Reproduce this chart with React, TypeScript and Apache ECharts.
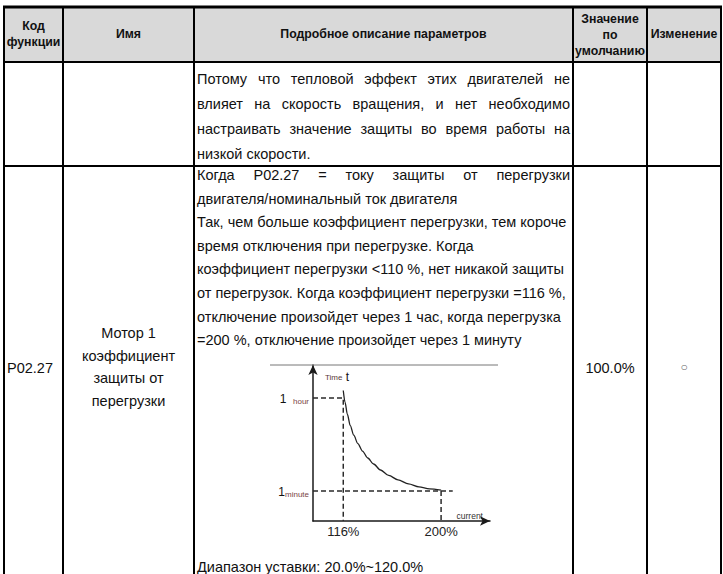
import React, { useEffect, useRef } from 'react';
import * as echarts from 'echarts';

// ---- chart data ----
const currentPct = [116, 117.5, 119.5, 122, 125, 128.5, 132.5, 137, 142, 148, 155, 163, 172, 181, 190, 200];
const tripTime = [43.5, 39.6, 35.6, 31.8, 28.6, 25.8, 23.3, 21.0, 19.0, 17.0, 15.2, 13.7, 12.4, 11.4, 10.7, 10.3];
const xTickValues = [116, 200];
const hourLevel = 41;
const minuteLevel = 10;
const yTickValues = [minuteLevel, hourLevel];
const xRange = [90, 242];
const yRange = [0, 52];
const minuteLineEnd = 210;

// ---- table texts ----
const headerCode = 'Код\nфункции';
const headerName = 'Имя';
const headerDesc = 'Подробное описание параметров';
const headerDefault = 'Значение\nпо\nумолчанию';
const headerChange = 'Изменение';

const row1Lines = [
  { t: 'Потому что тепловой эффект этих двигателей не', j: true },
  { t: 'влияет на скорость вращения, и нет необходимо', j: true },
  { t: 'настраивать значение защиты во время работы на', j: true },
  { t: 'низкой скорости.', j: false },
];
const row2Lines = [
  { t: 'Когда P02.27 = току защиты от перегрузки', j: true },
  { t: 'двигателя/номинальный ток двигателя', j: false },
  { t: 'Так, чем больше коэффициент перегрузки, тем короче', j: false },
  { t: 'время отключения при перегрузке. Когда', j: false },
  { t: 'коэффициент перегрузки <110 %, нет никакой защиты', j: false },
  { t: 'от перегрузок. Когда коэффициент перегрузки =116 %,', j: false },
  { t: 'отключение произойдет через 1 час, когда перегрузка', j: false },
  { t: '=200 %, отключение произойдет через 1 минуту', j: false },
];
const nameLines = ['Мотор 1', 'коэффициент', 'защиты от', 'перегрузки'];
const codeText = 'P02.27';
const defaultText = '100.0%';
const changeText = '○';
const rangeText = 'Диапазон уставки: 20.0%~120.0%';

export default function App() {
  const ref = useRef<HTMLDivElement>(null);
  useEffect(() => {
    const el = ref.current;
    if (!el) return;
    const chart = echarts.init(el, null, { renderer: 'svg' });
    const FF = '"Liberation Sans", Arial, sans-serif';
    const cv = document.createElement('canvas').getContext('2d') as CanvasRenderingContext2D;
    const mw = (s: string, fs: number, bold = false) => {
      cv.font = `${bold ? 'bold ' : ''}${fs}px "Liberation Sans", Arial, sans-serif`;
      return cv.measureText(s).width;
    };
    let bodyFs = (13 * 373) / mw(row2Lines[5].t, 13);
    bodyFs = Math.max(12, Math.min(14.5, bodyFs));

    const colX = [4, 63, 194, 573, 647, 721];
    const textLeft = 197;
    const textRight = 570;
    const els: any[] = [];

    // header background
    els.push({ type: 'rect', shape: { x: colX[0], y: 7, width: colX[5] - colX[0], height: 55 }, style: { fill: '#d9d9d9' }, z: 0 });

    const txt = (text: string, x: number, y: number, opts: any = {}) => ({
      type: 'text',
      x,
      y,
      z: 5,
      style: {
        text,
        x: 0,
        y: 0,
        fill: opts.fill || '#111',
        fontSize: opts.fs || bodyFs,
        fontFamily: FF,
        fontWeight: opts.bold ? 'bold' : 'normal',
        align: opts.align || 'left',
        verticalAlign: 'middle',
        lineHeight: opts.lh,
      },
    });

    // header texts
    const hfs = 12.3;
    els.push(txt(headerCode, (colX[0] + colX[1]) / 2, 34, { bold: true, fs: hfs, align: 'center', lh: 16 }));
    els.push(txt(headerName, (colX[1] + colX[2]) / 2, 34, { bold: true, fs: hfs, align: 'center' }));
    els.push(txt(headerDesc, (colX[2] + colX[3]) / 2, 34, { bold: true, fs: hfs, align: 'center' }));
    els.push(txt(headerDefault, (colX[3] + colX[4]) / 2, 35, { bold: true, fs: hfs, align: 'center', lh: 16 }));
    els.push(txt(headerChange, (colX[4] + colX[5]) / 2, 34, { bold: true, fs: hfs, align: 'center' }));

    const addLine = (line: { t: string; j: boolean }, y: number) => {
      if (!line.j) {
        els.push(txt(line.t, textLeft, y));
        return;
      }
      const words = line.t.split(' ');
      const ws = words.map((w) => mw(w, bodyFs));
      const sum = ws.reduce((a, b) => a + b, 0);
      const gap = (textRight - textLeft - sum) / (words.length - 1);
      let x = textLeft;
      words.forEach((w, i) => {
        els.push(txt(w, x, y));
        x += ws[i] + gap;
      });
    };
    row1Lines.forEach((l, i) => addLine(l, 78.5 + i * 25.3));
    row2Lines.forEach((l, i) => addLine(l, 175 + i * 23.6));
    els.push(txt(rangeText, textLeft, 567));

    // left cells of row 2
    els.push(txt(codeText, 7, 368));
    nameLines.forEach((s, i) => els.push(txt(s, (colX[1] + colX[2]) / 2, 333 + i * 22.5, { align: 'center' })));
    els.push(txt(defaultText, (colX[3] + colX[4]) / 2, 368, { align: 'center' }));
    els.push(txt(changeText, (colX[4] + colX[5]) / 2, 367, { align: 'center', fs: 12, fill: '#666' }));

    // table borders
    const hl = (y: number, w: number) => ({ type: 'line', z: 6, shape: { x1: colX[0] - 1, y1: y, x2: colX[5] + 1, y2: y }, style: { stroke: '#000', lineWidth: w } });
    els.push(hl(7, 3));
    els.push(hl(62, 2));
    els.push(hl(166, 2));
    colX.forEach((x) => els.push({ type: 'line', z: 6, shape: { x1: x, y1: 6, x2: x, y2: 580 }, style: { stroke: '#000', lineWidth: 2 } }));

    // chart frame top line
    els.push({ type: 'line', z: 4, shape: { x1: 270, y1: 365, x2: 498, y2: 365 }, style: { stroke: '#777', lineWidth: 1 } });

    const dashed = { type: [5, 3], color: '#2a2a2a', width: 1.5 };

    const option: any = {
      animation: false,
      grid: { left: 313, top: 365, width: 177, height: 156, containLabel: false },
      xAxis: {
        type: 'value',
        min: xRange[0],
        max: xRange[1],
        splitLine: { show: false },
        axisTick: { show: false },
        axisLine: { show: true, onZero: false, symbol: ['none', 'arrow'], symbolSize: [7, 10], lineStyle: { color: '#1a1a1a', width: 1.5 } },
        axisLabel: { customValues: xTickValues, formatter: (v: number) => v + '%', fontSize: 13, color: '#222', margin: 4, fontFamily: FF },
        name: 'current',
        nameLocation: 'end',
        nameGap: -7,
        nameTextStyle: { align: 'right', verticalAlign: 'bottom', fontSize: 8.5, color: '#333', fontFamily: FF, padding: [0, 0, 1, 0] },
      },
      yAxis: {
        type: 'value',
        min: yRange[0],
        max: yRange[1],
        splitLine: { show: false },
        axisTick: { show: false },
        axisLine: { show: true, onZero: false, symbol: ['none', 'arrow'], symbolSize: [7, 10], lineStyle: { color: '#1a1a1a', width: 1.5 } },
        axisLabel: {
          customValues: yTickValues,
          margin: 4,
          formatter: (v: number) => (v === hourLevel ? '{n|1}  {u|hour}' : '{n|1}{u|minute}'),
          rich: {
            n: { fontSize: 12, color: '#111', fontFamily: FF, lineHeight: 14, verticalAlign: 'bottom' },
            u: { fontSize: 8, color: '#7a4444', fontFamily: FF, lineHeight: 14, verticalAlign: 'bottom', padding: [4, 0, 0, 0] },
          },
        },
        name: '{a|Time} {b|t}',
        nameLocation: 'end',
        nameGap: -6,
        nameTextStyle: {
          align: 'left',
          verticalAlign: 'top',
          padding: [0, 0, 0, 12],
          rich: {
            a: { fontSize: 8, color: '#5a3a3a', fontFamily: FF },
            b: { fontSize: 12, color: '#111', fontFamily: FF },
          },
        },
      },
      series: [
        {
          type: 'line',
          data: currentPct.map((x, i) => [x, tripTime[i]]),
          smooth: 0.3,
          smoothMonotone: 'x',
          showSymbol: false,
          lineStyle: { color: '#222', width: 1.3 },
          z: 3,
        },
        {
          type: 'line',
          data: [[xRange[0], hourLevel], [xTickValues[0], hourLevel], [xTickValues[0], yRange[0]]],
          showSymbol: false,
          lineStyle: dashed,
        },
        {
          type: 'line',
          data: [[xRange[0], minuteLevel], [minuteLineEnd, minuteLevel]],
          showSymbol: false,
          lineStyle: dashed,
        },
        {
          type: 'line',
          data: [[xTickValues[1], minuteLevel], [xTickValues[1], yRange[0]]],
          showSymbol: false,
          lineStyle: dashed,
        },
      ],
      graphic: els,
    };
    chart.setOption(option);
    return () => chart.dispose();
  }, []);
  return <div ref={ref} style={{ position: 'fixed', left: 0, top: 0, width: 723, height: 574, background: '#fff' }} />;
}
